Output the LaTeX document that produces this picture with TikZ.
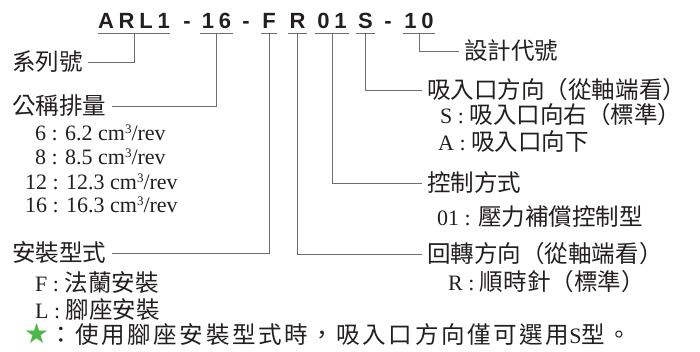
\documentclass[tikz,border=0pt]{standalone}
\usepackage{fontspec}
\setmainfont{Liberation Serif}
\newfontfamily\cjk[Scale=1.07]{Noto Sans CJK TC}
\newfontfamily\cjknote[Scale=1.07, LetterSpace=11]{Noto Sans CJK TC}
\newfontfamily\codefont[LetterSpace=22]{Liberation Sans}
\newfontfamily\symfont{DejaVu Sans}
\usepackage{xcolor}
\definecolor{ink}{HTML}{231F20}
\definecolor{leadgray}{HTML}{6D6E71}
\definecolor{stargreen}{HTML}{4DB848}
\newcommand\cmcube{cm\raisebox{7pt}{\fontsize{13}{13}\selectfont 3}}

\begin{document}
\begin{tikzpicture}[x=1pt, y=-1pt, ink,
    code/.style={font=\codefont\bfseries\fontsize{22}{22}\selectfont, anchor=base, inner xsep=0pt, inner ysep=5pt, text depth=0pt},
    lab/.style={font=\fontsize{22}{22}\selectfont, anchor=west, inner xsep=5pt, inner ysep=0pt},
    sub/.style={font=\fontsize{22}{22}\selectfont, anchor=west, inner sep=0pt},
    lead/.style={draw=leadgray, line width=0.9pt}]

    \useasboundingbox (0,0) rectangle (700,351);

    % model code
    \node[code, minimum width=71] (arl) at (134, 28) {ARL1};
    \node[code] (d_1) at (187, 28) {-};
    \node[code, minimum width=32] (n16) at (216.5, 28) {16};
    \node[code] (d_2) at (246, 28) {-};
    \node[code, minimum width=16] (f) at (269, 28) {F};
    \node[code, minimum width=19] (r) at (297.5, 28) {R};
    \node[code, minimum width=33] (n01) at (332, 28) {01};
    \node[code, minimum width=19] (s) at (365.5, 28) {S};
    \node[code] (d_3) at (388, 28) {-};
    \node[code, minimum width=31] (n10) at (419, 28) {10};
    \foreach \seg in {arl, n16, f, r, n01, s, n10}
        \draw[lead] (\seg.south west) -- (\seg.south east);

    % left side
    \node[lab] (series) at (7, 62) {\cjk 系列號};
    \node[lab] (disp) at (7, 106) {\cjk 公稱排量};
    \node[sub] (d_6) at (35, 133) {6 : 6.2 \cmcube/rev};
    \node[sub] (d_8) at (35, 157) {8 : 8.5 \cmcube/rev};
    \node[sub] (d_12) at (25, 182) {12 : 12.3 \cmcube/rev};
    \node[sub] (d_16) at (25, 205) {16 : 16.3 \cmcube/rev};
    \node[lab] (mount) at (7, 253) {\cjk 安裝型式};
    \node[sub] (m_f) at (35, 283) {F : {\cjk 法蘭安裝}};
    \node[sub] (m_l) at (35, 310) {L : {\cjk 腳座安裝}};
    \node[sub] (note) at (24, 335) {{\symfont\fontsize{28}{28}\selectfont\color{stargreen}\smash{★}}{\cjknote ：使用腳座安裝型式時，吸入口方向僅可選用}S{\cjknote 型。}};

    % right side
    \node[lab] (design) at (459, 51) {\cjk 設計代號};
    \node[lab] (inlet) at (422, 90) {\cjk 吸入口方向（從軸端看）};
    \node[sub] (in_s) at (440, 115) {S : {\cjk 吸入口向右（標準）}};
    \node[sub] (in_a) at (438, 142) {A : {\cjk 吸入口向下}};
    \node[lab] (ctrl) at (422, 183) {\cjk 控制方式};
    \node[sub] (c_01) at (437, 217) {01 : {\cjk 壓力補償控制型}};
    \node[lab] (rot) at (422, 254) {\cjk 回轉方向（從軸端看）};
    \node[sub] (r_r) at (448, 282) {R : {\cjk 順時針（標準）}};

    \draw[lead] (arl.south) |- (series.east);
    \draw[lead] (n16.south) |- (disp.east);
    \draw[lead] (f.south) |- (mount.east);
    \draw[lead] (r.south) |- (rot.west);
    \draw[lead] (n01.south) |- (ctrl.west);
    \draw[lead] (s.south) |- (inlet.west);
    \draw[lead] (n10.south) |- (design.west);
\end{tikzpicture}
\end{document}
